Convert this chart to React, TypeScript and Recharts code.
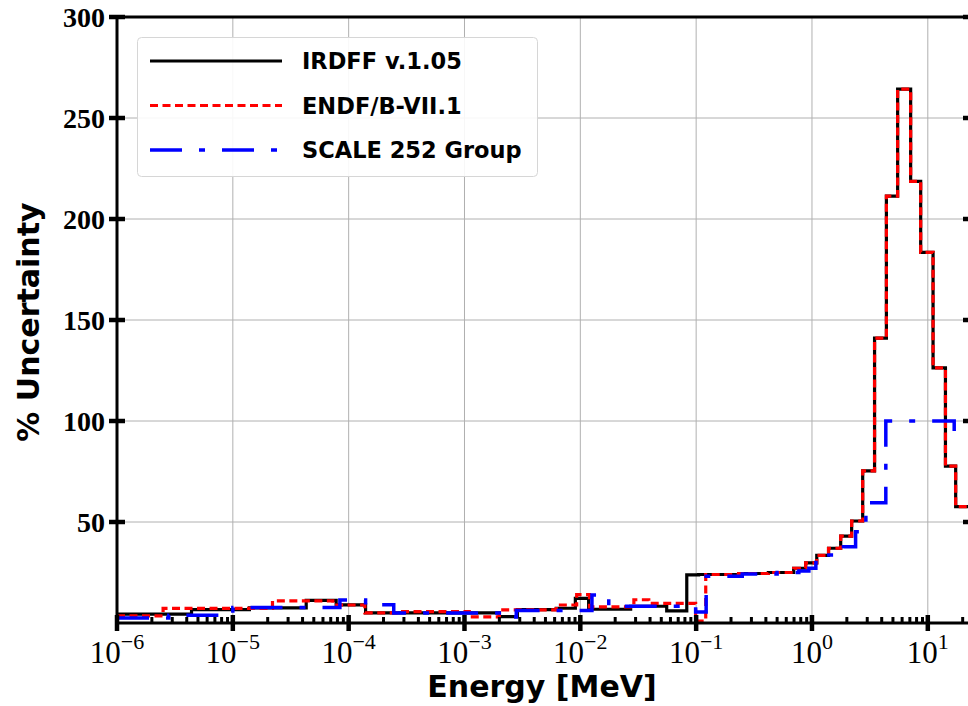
import React from 'react';
import { LineChart, Line, XAxis, YAxis, CartesianGrid, Legend } from 'recharts';

// step edges (MeV) and % uncertainty
const irdffEnergy = [1e-6, 4.4e-6, 1.39e-5, 4.3e-5, 7.8e-5, 1.4e-4, 2.0e-3, 2.86e-3, 6.2e-3, 9.06e-3, 1.18e-2, 2.72e-2, 5.57e-2, 8.3e-2, 0.105, 0.233, 0.42, 0.695, 0.882, 1.1, 1.39, 1.77, 2.2, 2.74, 3.47, 4.39, 5.49, 7.11, 8.68, 11.1, 14.2, 17.4, 23.6];
const irdffUnc = [4.4, 6.6, 7.5, 11.2, 9.0, 5.0, 3.2, 6.6, 7.3, 12.2, 6.8, 8.3, 6.0, 23.8, 24.0, 24.5, 25.0, 27.1, 29.8, 33.5, 37.0, 43.0, 50.5, 75.3, 141.0, 211.3, 264.3, 218.6, 183.5, 126.3, 77.7, 57.6, 57.6];

const endfEnergy = [1e-6, 2.5e-6, 2.2e-5, 7.3e-5, 1.38e-4, 2.76e-4, 1.1e-3, 2.0e-3, 6.2e-3, 9.3e-3, 1.2e-2, 2.9e-2, 3.9e-2, 9.9e-2, 0.121, 0.233, 0.42, 0.695, 0.882, 1.1, 1.39, 1.77, 2.2, 2.74, 3.47, 4.39, 5.49, 7.11, 8.68, 11.1, 14.2, 17.4, 23.6];
const endfUnc = [3.5, 7.2, 11.0, 8.9, 5.0, 5.6, 3.0, 6.5, 8.9, 14.0, 8.0, 11.5, 9.7, 1.0, 24.0, 24.5, 25.0, 27.1, 29.8, 33.5, 37.0, 43.0, 50.5, 75.3, 141.0, 211.3, 264.3, 218.6, 183.5, 126.3, 77.7, 57.6, 57.6];

const scaleEnergy = [1e-6, 2.8e-6, 1e-5, 8.4e-5, 1.4e-4, 2.45e-4, 2.0e-3, 2.8e-3, 1.26e-2, 1.76e-2, 9.9e-2, 0.122, 0.25, 0.5, 0.77, 0.94, 1.08, 1.29, 1.87, 2.38, 2.92, 4.34, 16.9];
const scaleUnc = [2.5, 3.8, 7.7, 11.4, 9.0, 5.0, 3.0, 6.2, 13.9, 8.3, 5.5, 23.2, 24.2, 25.0, 25.7, 27.1, 29.9, 33.7, 37.8, 45.2, 59.5, 100, 90];

const majorTicks = [1e-6, 1e-5, 1e-4, 1e-3, 1e-2, 1e-1, 1, 10];
const majorExponents = ['\u22126', '\u22125', '\u22124', '\u22123', '\u22122', '\u22121', '0', '1'];
const minorMultipliers = [2, 3, 4, 5, 6, 7, 8, 9];
const yTicks = [50, 100, 150, 200, 250, 300];

const xMin = 1e-6;
const xMax = 23.6;

const minorTicks = majorTicks
  .flatMap((d) => minorMultipliers.map((m) => m * d))
  .filter((v) => v <= xMax);
const allXTicks = [...majorTicks, ...minorTicks].sort((a, b) => a - b);

const zip = (e: number[], u: number[]) => e.map((x, i) => ({ e: x, u: u[i] }));

const series = [
  { name: 'IRDFF v.1.05', data: zip(irdffEnergy, irdffUnc), color: '#000000', width: 3.2, dash: undefined as string | undefined },
  { name: 'ENDF/B-VII.1', data: zip(endfEnergy, endfUnc), color: '#ff0000', width: 3.2, dash: '8 4.5' },
  { name: 'SCALE 252 Group', data: zip(scaleEnergy, scaleUnc), color: '#0000ff', width: 3.5, dash: '32 17 6 17' },
];

const isMajor = (v: number) => majorTicks.indexOf(v);

const BottomTick = (props: any) => {
  const { x, y, payload } = props;
  const idx = isMajor(payload.value);
  if (idx < 0) {
    return <line x1={x} x2={x} y1={y - 6} y2={y} stroke="#000" strokeWidth={3} />;
  }
  return (
    <g>
      <line x1={x} x2={x} y1={y - 8} y2={y + 8} stroke="#000" strokeWidth={4.5} />
      <text x={x} y={y + 40} textAnchor="middle" fontFamily="Liberation Serif" fontSize={31} fill="#000">
        10<tspan dy={-14} fontSize={22}>{majorExponents[idx]}</tspan>
      </text>
    </g>
  );
};

const TopTick = (props: any) => {
  const { x, y, payload } = props;
  if (isMajor(payload.value) < 0) {
    return <line x1={x} x2={x} y1={y} y2={y + 6} stroke="#000" strokeWidth={3} />;
  }
  return <line x1={x} x2={x} y1={y - 8} y2={y + 8} stroke="#000" strokeWidth={4.5} />;
};

const LeftTick = (props: any) => {
  const { x, y, payload } = props;
  return (
    <g>
      <line x1={x - 8} x2={x + 8} y1={y} y2={y} stroke="#000" strokeWidth={4.5} />
      <text x={x - 12} y={y + 9.5} textAnchor="end" fontFamily="Liberation Serif" fontWeight="bold" fontSize={28} fill="#000">
        {payload.value}
      </text>
    </g>
  );
};

const RightTick = (props: any) => {
  const { x, y } = props;
  return <line x1={x - 8} x2={x + 8} y1={y} y2={y} stroke="#000" strokeWidth={4.5} />;
};

const LegendBox = () => (
  <svg width={401} height={140} style={{ display: 'block' }}>
    <rect x={0.5} y={0.5} width={400} height={139} rx={4} fill="#fff" fillOpacity={0.9} stroke="#d6d6d6" strokeWidth={1} />
    {series.map((s, i) => {
      const cy = 24 + i * 44.5;
      return (
        <g key={s.name}>
          <line x1={13} x2={145} y1={cy} y2={cy} stroke={s.color} strokeWidth={s.width} strokeDasharray={s.dash} />
          <text x={165} y={cy + 8} fontFamily="DejaVu Sans" fontWeight="bold" fontSize={22.5} fill="#000">
            {s.name}
          </text>
        </g>
      );
    })}
  </svg>
);

const axisLineStyle = { stroke: '#000', strokeWidth: 3 };

export default function App() {
  return (
    <div style={{ position: 'absolute', left: 0, top: 0, width: 968, height: 706, overflow: 'hidden', background: '#fff' }}>
      <LineChart width={980} height={706} margin={{ top: 16, right: 8, bottom: 82, left: 116 }}>
        <CartesianGrid
          stroke="#b0b0b0"
          strokeWidth={1}
          verticalValues={majorTicks}
          horizontalValues={yTicks}
        />
        {series.map((s) => (
          <Line
            key={s.name}
            data={s.data}
            dataKey="u"
            name={s.name}
            type="stepAfter"
            stroke={s.color}
            strokeWidth={s.width}
            strokeDasharray={s.dash}
            dot={false}
            activeDot={false}
            isAnimationActive={false}
          />
        ))}
        <XAxis
          dataKey="e"
          type="number"
          scale="log"
          domain={[xMin, xMax]}
          allowDataOverflow
          ticks={allXTicks}
          interval={0}
          height={1}
          tickSize={0}
          tickMargin={0}
          tickLine={false}
          tick={BottomTick}
          axisLine={axisLineStyle}
        />
        <XAxis
          xAxisId="top"
          orientation="top"
          type="number"
          scale="log"
          domain={[xMin, xMax]}
          allowDataOverflow
          ticks={allXTicks}
          interval={0}
          height={1}
          tickSize={0}
          tickMargin={0}
          tickLine={false}
          tick={TopTick}
          axisLine={axisLineStyle}
        />
        <YAxis
          type="number"
          domain={[0, 300]}
          allowDataOverflow
          ticks={yTicks}
          interval={0}
          width={1}
          tickSize={0}
          tickMargin={0}
          tickLine={false}
          tick={LeftTick}
          axisLine={axisLineStyle}
        />
        <YAxis
          yAxisId="right"
          orientation="right"
          type="number"
          domain={[0, 300]}
          allowDataOverflow
          ticks={yTicks}
          interval={0}
          width={1}
          tickSize={0}
          tickMargin={0}
          tickLine={false}
          tick={RightTick}
          axisLine={axisLineStyle}
        />
        <Legend
          layout="vertical"
          align="center"
          verticalAlign="middle"
          content={() => <LegendBox />}
          wrapperStyle={{ left: 137, top: 37, width: 401, height: 140 }}
        />
      </LineChart>
      <svg width={968} height={706} style={{ position: 'absolute', left: 0, top: 0, pointerEvents: 'none' }}>
        <text x={542} y={697} textAnchor="middle" fontFamily="DejaVu Sans" fontWeight="bold" fontSize={30} fill="#000">
          Energy [MeV]
        </text>
        <text
          x={0}
          y={0}
          transform="translate(39 322) rotate(-90)"
          textAnchor="middle"
          fontFamily="DejaVu Sans"
          fontWeight="bold"
          fontSize={30}
          fill="#000"
        >
          % Uncertainty
        </text>
      </svg>
    </div>
  );
}
